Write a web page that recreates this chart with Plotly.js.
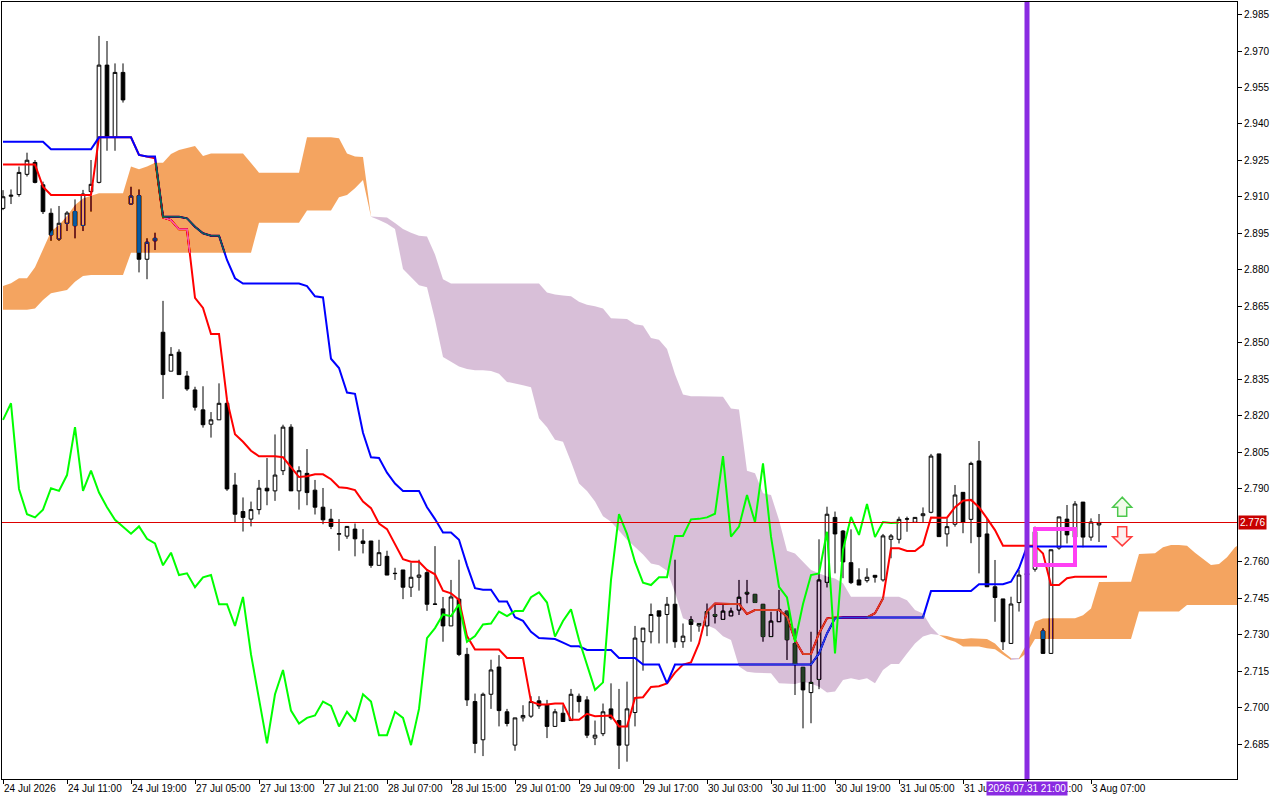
<!DOCTYPE html>
<html>
<head>
<meta charset="utf-8">
<script src="https://cdn.plot.ly/plotly-3.0.1.min.js"></script>
<style>
  html, body { margin: 0; padding: 0; background: #fff; }
  #chart { width: 1280px; height: 800px; }
</style>
</head>
<body>
<div id="chart"></div>
<script>
// hourly bars, index 0 = 24 Jul 03:00
var opens = [
  2.9053,2.9103,2.9110,2.9193,2.9242,2.9150,2.9033,2.8927,2.8992,2.9040,
  2.8983,2.9122,2.9160,2.9642,2.9345,2.9612,2.9071,2.9105,2.8844,2.8920,
  2.8544,2.8384,2.8462,2.8364,2.8307,2.8225,2.8166,2.8184,2.8252,2.7916,
  2.7807,2.7776,2.7815,2.7903,2.7892,2.7975,2.8154,2.7892,2.7964,2.7895,
  2.7825,2.7776,2.7714,2.7706,2.7735,2.7686,2.7686,2.7586,2.7623,2.7552,
  2.7567,2.7496,2.7537,2.7556,2.7427,2.7407,2.7337,2.7447,2.7220,2.7026,
  2.6869,2.7056,2.7168,2.6984,2.6847,2.6959,2.6966,2.7029,2.7014,2.6924,
  2.6978,2.6948,2.7048,2.7033,2.6876,2.6894,2.6996,2.6948,2.6847,2.6981,
  2.7272,2.7313,2.7399,2.7384,2.7426,2.7272,2.7362,2.7337,2.7337,2.7384,
  2.7364,2.7378,2.7402,2.7468,2.7467,2.7426,2.7293,2.7354,2.7398,2.7265,
  2.7167,2.7063,2.7117,2.7516,2.7783,2.7727,2.7597,2.7526,2.7523,2.7545,
  2.7526,2.7693,2.7693,2.7776,2.7763,2.7790,2.7804,2.8044,2.7715,2.7755,
  2.7886,2.7775,2.8015,2.7715,2.7498,2.7448,2.7265,2.7433,2.7546,2.7570,
  2.7316,2.7224,2.7657,2.7776,2.7702,2.7846,2.7702,2.7752,2.7762
];
var highs = [
  2.9128,2.9131,2.9225,2.9282,2.9252,2.9163,2.9053,2.9063,2.9042,2.9090,
  2.9129,2.9252,2.9762,2.9741,2.9649,2.9649,2.9142,2.9131,2.8930,2.8953,
  2.8673,2.8483,2.8474,2.8385,2.8320,2.8322,2.8216,2.8334,2.8266,2.7966,
  2.7865,2.7848,2.7937,2.8027,2.8124,2.8164,2.8166,2.7993,2.8064,2.7937,
  2.7904,2.7818,2.7776,2.7746,2.7758,2.7735,2.7686,2.7691,2.7646,2.7576,
  2.7567,2.7597,2.7609,2.7567,2.7665,2.7456,2.7526,2.7609,2.7247,2.7059,
  2.7063,2.7198,2.7217,2.6996,2.6959,2.7011,2.7048,2.7048,2.7033,2.6996,
  2.7011,2.7078,2.7059,2.7048,2.6948,2.7018,2.7101,2.7078,2.7108,2.7337,
  2.7328,2.7429,2.7399,2.7456,2.7609,2.7347,2.7377,2.7347,2.7429,2.7429,
  2.7430,2.7412,2.7526,2.7526,2.7467,2.7426,2.7395,2.7485,2.7398,2.7327,
  2.7167,2.7313,2.7693,2.7827,2.7807,2.7731,2.7734,2.7574,2.7574,2.7545,
  2.7715,2.7715,2.7786,2.7786,2.7783,2.7824,2.8044,2.8044,2.7779,2.7916,
  2.7886,2.8012,2.8097,2.7779,2.7608,2.7448,2.7457,2.7567,2.7600,2.7745,
  2.7327,2.7650,2.7785,2.7834,2.7850,2.7846,2.7779,2.7797,2.7762
];
var lows = [
  2.9046,2.9071,2.9101,2.9184,2.9156,2.9030,2.8920,2.8920,2.8960,2.8930,
  2.8960,2.9040,2.9156,2.9290,2.9290,2.9488,2.9067,2.8790,2.8762,2.8882,
  2.8270,2.8384,2.8370,2.8303,2.8222,2.8152,2.8111,2.8184,2.7892,2.7763,
  2.7725,2.7746,2.7795,2.7833,2.7851,2.7957,2.7892,2.7815,2.7833,2.7795,
  2.7755,2.7735,2.7646,2.7695,2.7623,2.7635,2.7576,2.7586,2.7546,2.7526,
  2.7447,2.7456,2.7482,2.7399,2.7426,2.7272,2.7337,2.7213,2.7008,2.6814,
  2.6802,2.6996,2.6924,2.6924,2.6824,2.6944,2.6959,2.6996,2.6876,2.6924,
  2.6944,2.6948,2.6981,2.6876,2.6847,2.6884,2.6951,2.6749,2.6779,2.6924,
  2.7153,2.7265,2.7265,2.7265,2.7247,2.7247,2.7272,2.7313,2.7295,2.7347,
  2.7364,2.7378,2.7382,2.7430,2.7433,2.7272,2.7293,2.7354,2.7197,2.7053,
  2.6916,2.6937,2.7077,2.7495,2.7553,2.7533,2.7509,2.7505,2.7515,2.7515,
  2.7519,2.7615,2.7676,2.7724,2.7763,2.7763,2.7800,2.7704,2.7663,2.7745,
  2.7718,2.7677,2.7553,2.7498,2.7354,2.7238,2.7265,2.7396,2.7530,2.7560,
  2.7224,2.7224,2.7650,2.7676,2.7661,2.7660,2.7687,2.7682,2.7762
];
var closes = [
  2.9101,2.9107,2.9201,2.9251,2.9160,2.9040,2.8944,2.8992,2.9034,2.8982,
  2.9112,2.9152,2.9642,2.9345,2.9612,2.9499,2.9104,2.8844,2.8914,2.8930,
  2.8370,2.8453,2.8370,2.8311,2.8236,2.8164,2.8184,2.8252,2.7900,2.7796,
  2.7783,2.7815,2.7903,2.7892,2.7957,2.8154,2.7892,2.7975,2.7885,2.7825,
  2.7773,2.7746,2.7716,2.7746,2.7695,2.7676,2.7586,2.7638,2.7546,2.7553,
  2.7496,2.7537,2.7546,2.7426,2.7426,2.7337,2.7456,2.7220,2.7033,2.6854,
  2.7056,2.7156,2.6989,2.6936,2.6959,2.6969,2.7026,2.7008,2.6924,2.6984,
  2.6944,2.7056,2.7026,2.6888,2.6888,2.6984,2.6959,2.6847,2.6996,2.7287,
  2.7328,2.7384,2.7377,2.7426,2.7272,2.7295,2.7343,2.7347,2.7396,2.7377,
  2.7398,2.7398,2.7455,2.7475,2.7433,2.7293,2.7357,2.7405,2.7280,2.7181,
  2.7074,2.7105,2.7526,2.7796,2.7715,2.7600,2.7515,2.7505,2.7537,2.7537,
  2.7707,2.7707,2.7775,2.7777,2.7783,2.7798,2.8035,2.7704,2.7745,2.7875,
  2.7763,2.8005,2.7704,2.7498,2.7454,2.7272,2.7427,2.7546,2.7553,2.7724,
  2.7224,2.7650,2.7785,2.7711,2.7838,2.7702,2.7764,2.7760,2.7762
];

// Ichimoku lines
var tenkan = [
  2.9233,2.9233,2.9233,2.9233,2.9233,2.9142,2.9108,2.9108,2.9108,2.9108,
  2.9108,2.9108,2.9345,2.9345,2.9345,2.9345,2.9345,2.9273,2.9266,2.9259,
  2.9016,2.9005,2.8967,2.8967,2.8685,2.8644,2.8537,2.8537,2.8266,2.8125,
  2.8094,2.8057,2.8034,2.8034,2.8034,2.8030,2.7990,2.7949,2.7952,2.7960,
  2.7960,2.7940,2.7907,2.7904,2.7895,2.7848,2.7821,2.7758,2.7735,2.7676,
  2.7611,2.7601,2.7601,2.7567,2.7549,2.7482,2.7471,2.7444,2.7295,2.7240,
  2.7240,2.7240,2.7240,2.7205,2.7205,2.7205,2.7026,2.7014,2.7014,2.7018,
  2.7018,2.6951,2.6951,2.6976,2.6966,2.6966,2.6969,2.6924,2.6924,2.7041,
  2.7044,2.7086,2.7089,2.7101,2.7145,2.7178,2.7187,2.7265,2.7396,2.7429,
  2.7427,2.7427,2.7427,2.7386,2.7402,2.7402,2.7402,2.7402,2.7375,2.7279,
  2.7222,2.7222,2.7306,2.7368,2.7372,2.7372,2.7372,2.7372,2.7372,2.7389,
  2.7450,2.7656,2.7656,2.7645,2.7645,2.7670,2.7783,2.7782,2.7782,2.7825,
  2.7852,2.7855,2.7825,2.7779,2.7731,2.7667,2.7667,2.7667,2.7667,2.7667,
  2.7635,2.7505,2.7505,2.7533,2.7539,2.7539,2.7539,2.7539,2.7539
];
var kijun = [
  2.9327,2.9327,2.9327,2.9327,2.9327,2.9327,2.9296,2.9296,2.9296,2.9296,
  2.9296,2.9296,2.9345,2.9345,2.9345,2.9345,2.9345,2.9273,2.9266,2.9266,
  2.9019,2.9019,2.9019,2.9012,2.8978,2.8951,2.8941,2.8941,2.8841,2.8766,
  2.8744,2.8744,2.8744,2.8744,2.8744,2.8744,2.8744,2.8744,2.8734,2.8692,
  2.8687,2.8435,2.8397,2.8296,2.8291,2.8131,2.8030,2.8027,2.7967,2.7922,
  2.7892,2.7892,2.7892,2.7825,2.7776,2.7721,2.7721,2.7691,2.7586,2.7492,
  2.7486,2.7486,2.7437,2.7437,2.7373,2.7358,2.7313,2.7287,2.7284,2.7283,
  2.7268,2.7253,2.7253,2.7238,2.7238,2.7238,2.7238,2.7205,2.7205,2.7205,
  2.7178,2.7178,2.7178,2.7101,2.7178,2.7178,2.7178,2.7178,2.7178,2.7178,
  2.7178,2.7178,2.7178,2.7178,2.7178,2.7178,2.7178,2.7178,2.7178,2.7178,
  2.7178,2.7178,2.7224,2.7306,2.7368,2.7372,2.7372,2.7372,2.7372,2.7372,
  2.7372,2.7372,2.7372,2.7372,2.7372,2.7372,2.7480,2.7480,2.7480,2.7480,
  2.7480,2.7480,2.7508,2.7508,2.7508,2.7508,2.7519,2.7574,2.7663,2.7663,
  2.7663,2.7663,2.7663,2.7663,2.7663,2.7663,2.7663,2.7663,2.7663
];
// senkou spans, already shifted 26 bars forward (run past the last candle)
var spanA = [
  2.8734,2.8745,2.8766,2.8766,2.8811,2.8882,2.8958,2.8985,2.9022,2.9067,
  2.9094,2.9105,2.9115,2.9115,2.9115,2.9115,2.9225,2.9214,2.9225,2.9241,
  2.9241,2.9277,2.9293,2.9300,2.9310,2.9268,2.9279,2.9279,2.9279,2.9279,
  2.9279,2.9240,2.9200,2.9200,2.9200,2.9200,2.9200,2.9200,2.9345,2.9345,
  2.9345,2.9345,2.9341,2.9279,2.9266,2.9264,2.9019,2.9005,2.8990,2.8968,
  2.8804,2.8770,2.8737,2.8729,2.8595,2.8442,2.8423,2.8403,2.8393,2.8388,
  2.8388,2.8385,2.8373,2.8340,2.8333,2.8326,2.8318,2.8191,2.8154,2.8102,
  2.8094,2.8012,2.7922,2.7892,2.7848,2.7788,2.7765,2.7728,2.7691,2.7661,
  2.7631,2.7594,2.7586,2.7564,2.7474,2.7369,2.7355,2.7347,2.7340,2.7325,
  2.7295,2.7279,2.7170,2.7149,2.7145,2.7143,2.7142,2.7101,2.7100,2.7098,
  2.7108,2.7100,2.7087,2.7063,2.7067,2.7115,2.7122,2.7115,2.7122,2.7101,
  2.7156,2.7180,2.7180,2.7224,2.7265,2.7293,2.7304,2.7300,2.7296,2.7286,
  2.7283,2.7286,2.7286,2.7283,2.7265,2.7231,2.7197,2.7200,2.7265,2.7354,
  2.7367,2.7368,2.7368,2.7368,2.7368,2.7381,2.7409,2.7518,2.7519,2.7519,
  2.7519,2.7519,2.7633,2.7633,2.7636,2.7660,2.7670,2.7670,2.7666,2.7638,
  2.7611,2.7587,2.7591,2.7619,2.7660,2.7683
];
var spanB = [
  2.8636,2.8636,2.8636,2.8636,2.8642,2.8677,2.8704,2.8711,2.8718,2.8752,
  2.8775,2.8779,2.8779,2.8779,2.8779,2.8779,2.8871,2.8871,2.8871,2.8871,
  2.8871,2.8871,2.8871,2.8871,2.8871,2.8871,2.8871,2.8871,2.8871,2.8871,
  2.8871,2.8871,2.8994,2.8994,2.8994,2.8994,2.8994,2.8994,2.9044,2.9044,
  2.9044,2.9044,2.9099,2.9108,2.9136,2.9170,2.9020,2.9017,2.9016,2.8993,
  2.8968,2.8953,2.8941,2.8938,2.8864,2.8762,2.8744,2.8744,2.8744,2.8744,
  2.8744,2.8744,2.8744,2.8744,2.8744,2.8744,2.8744,2.8744,2.8707,2.8699,
  2.8695,2.8692,2.8669,2.8657,2.8651,2.8642,2.8602,2.8600,2.8598,2.8577,
  2.8572,2.8520,2.8513,2.8475,2.8371,2.8288,2.8281,2.8281,2.8281,2.8281,
  2.8279,2.8231,2.8227,2.7975,2.7964,2.7882,2.7875,2.7772,2.7646,2.7635,
  2.7601,2.7567,2.7553,2.7540,2.7532,2.7512,2.7457,2.7457,2.7457,2.7457,
  2.7457,2.7457,2.7457,2.7443,2.7402,2.7388,2.7334,2.7300,2.7282,2.7272,
  2.7252,2.7252,2.7252,2.7245,2.7241,2.7218,2.7205,2.7205,2.7228,2.7283,
  2.7283,2.7283,2.7283,2.7283,2.7283,2.7283,2.7283,2.7283,2.7283,2.7283,
  2.7283,2.7283,2.7396,2.7396,2.7396,2.7396,2.7396,2.7396,2.7423,2.7423,
  2.7423,2.7423,2.7423,2.7423,2.7423,2.7423
];

// time axis labels, one every 8 bars
var timeLabels = [
  "24 Jul 2026","24 Jul 11:00","24 Jul 19:00","27 Jul 05:00","27 Jul 13:00",
  "27 Jul 21:00","28 Jul 07:00","28 Jul 15:00","29 Jul 01:00","29 Jul 09:00",
  "29 Jul 17:00","30 Jul 03:00","30 Jul 11:00","30 Jul 19:00","31 Jul 05:00",
  "31 Jul 13:00","31 Jul 21:00","3 Aug 07:00"
];
// 2.775 is left out: the bid label sits there
var priceTicks = [2.685,2.700,2.715,2.730,2.745,2.760,2.790,2.805,2.820,
  2.835,2.850,2.865,2.880,2.895,2.910,2.925,2.940,2.955,2.970,2.985];

var SHIFT = 26;
var markerBar = 128;           // vertical line 2026.07.31 21:00
var markerText = "2026.07.31 21:00";
var boxBars = [129, 134];
var boxPrices = [2.7587, 2.7735];

var xRange = [-0.125, 154.25];
var yRange = [2.67078, 2.99014];

var FONT = "Liberation Sans, Arial, sans-serif";
var SANDY = "#F4A460", THISTLE = "#D8BFD8";

function invert(hex) {
  var n = parseInt(hex.slice(1), 16) ^ 0xFFFFFF;
  return "#" + ("000000" + n.toString(16)).slice(-6);
}

var idx = closes.map(function (_, i) { return i; });

// white panel inside the plot group, so the xor-style kumo has a backdrop
var backdrop = {
  type: "bar", x: [(xRange[0] + xRange[1]) / 2], width: [xRange[1] - xRange[0] + 2],
  base: [yRange[0] - 0.01], y: [yRange[1] - yRange[0] + 0.02],
  marker: { color: "#ffffff", line: { width: 0 } },
  hoverinfo: "skip", showlegend: false
};

var candles = {
  type: "candlestick",
  x: idx, open: opens, high: highs, low: lows, close: closes,
  increasing: { line: { color: "#000", width: 1 }, fillcolor: "#fff" },
  decreasing: { line: { color: "#000", width: 1 }, fillcolor: "#000" },
  whiskerwidth: 0,
  hoverinfo: "skip", showlegend: false
};

var tenkanTrace = {
  type: "scatter", mode: "lines", x: idx, y: tenkan,
  line: { color: "#ff0000", width: 2 }, hoverinfo: "skip", showlegend: false
};
var kijunTrace = {
  type: "scatter", mode: "lines", x: idx, y: kijun,
  line: { color: "#0000ff", width: 2 }, hoverinfo: "skip", showlegend: false
};

// split the kumo into runs of one colour
var runs = [];
for (var i = 0; i < spanA.length - 1; i++) {
  var d = (spanA[i] - spanB[i]) + (spanA[i + 1] - spanB[i + 1]);
  var up = d >= 0;
  var last = runs[runs.length - 1];
  if (last && last.up === up) last.end = i + 1;
  else runs.push({ up: up, start: i, end: i + 1 });
}
var cloudTraces = runs.map(function (r) {
  var xs = [], ys = [], k;
  for (k = r.start; k <= r.end; k++) { xs.push(k); ys.push(Math.max(spanA[k], spanB[k])); }
  for (k = r.end; k >= r.start; k--) { xs.push(k); ys.push(Math.min(spanA[k], spanB[k])); }
  return {
    type: "scatter", mode: "lines", x: xs, y: ys, fill: "toself",
    fillcolor: invert(r.up ? SANDY : THISTLE), line: { width: 0 },
    hoverinfo: "skip", showlegend: false
  };
});

var chikou = closes.slice(SHIFT);
var chikouTrace = {
  type: "scatter", mode: "lines",
  x: chikou.map(function (_, i) { return i; }), y: chikou,
  line: { color: "#00ff00", width: 2 }, hoverinfo: "skip", showlegend: false
};

var lastPrice = closes[closes.length - 1];

var layout = {
  width: 1280, height: 800,
  margin: { l: 2, r: 43, t: 2, b: 21 },
  paper_bgcolor: "#fff", plot_bgcolor: "#fff",
  showlegend: false, hovermode: false,
  boxgap: 0.35,
  font: { family: FONT, size: 10, color: "#000" },
  xaxis: {
    type: "linear", range: xRange,
    showgrid: false, zeroline: false,
    showline: true, mirror: true, linecolor: "#000", linewidth: 1,
    ticks: "outside", ticklen: 4, tickcolor: "#000",
    tickvals: timeLabels.map(function (_, i) { return i * 8; }),
    ticktext: timeLabels,
    ticklabelposition: "outside right",
    tickfont: { family: FONT, size: 10, color: "#000" },
    rangeslider: { visible: false }, fixedrange: true
  },
  yaxis: {
    side: "right", range: yRange,
    showgrid: false, zeroline: false,
    showline: true, mirror: true, linecolor: "#000", linewidth: 1,
    ticks: "outside", ticklen: 4, tickcolor: "#000",
    tickvals: priceTicks,
    ticktext: priceTicks.map(function (v) { return v.toFixed(3); }),
    tickfont: { family: FONT, size: 10, color: "#000" },
    fixedrange: true
  },
  shapes: [
    { type: "line", xref: "paper", x0: 0, x1: 1, yref: "y", y0: lastPrice, y1: lastPrice,
      line: { color: "#dd0000", width: 1 }, layer: "above" },
    { type: "line", xref: "x", x0: markerBar, x1: markerBar, yref: "paper", y0: 0, y1: 1,
      line: { color: "#8a2be2", width: 5 }, layer: "above" },
    { type: "rect", xref: "x", x0: boxBars[0], x1: boxBars[1], yref: "y", y0: boxPrices[0], y1: boxPrices[1],
      line: { color: "#ff40f4", width: 4 }, layer: "above" },
    { type: "path", xref: "x", yref: "y", xsizemode: "pixel", ysizemode: "pixel",
      xanchor: 139.9, yanchor: 2.7825,
      path: "M 0 10 L -9.5 0 L -4.5 0 L -4.5 -9 L 4.5 -9 L 4.5 0 L 9.5 0 Z",
      fillcolor: "#f2fbea", line: { color: "#4cc84c", width: 1.5 }, layer: "above" },
    { type: "path", xref: "x", yref: "y", xsizemode: "pixel", ysizemode: "pixel",
      xanchor: 139.9, yanchor: 2.7703,
      path: "M -4.5 10 L 4.5 10 L 4.5 0 L 9.5 0 L 0 -9 L -9.5 0 L -4.5 0 Z",
      fillcolor: "#fdeeee", line: { color: "#ff3c3c", width: 1.5 }, layer: "above" }
  ],
  annotations: [
    { xref: "paper", x: 1, xanchor: "left", xshift: 1, yref: "y", y: lastPrice,
      text: lastPrice.toFixed(3), showarrow: false, bgcolor: "#c80000", borderpad: 1,
      font: { family: FONT, size: 10, color: "#fff" } },
    { xref: "x", x: markerBar, xanchor: "center", yref: "paper", y: 0, yanchor: "top", yshift: -2,
      text: markerText, showarrow: false, bgcolor: "#8a2be2", borderpad: 1,
      font: { family: FONT, size: 10, color: "#fff" } }
  ]
};

var data = [backdrop, candles, tenkanTrace, kijunTrace].concat(cloudTraces, [chikouTrace]);

Plotly.newPlot("chart", data, layout, { staticPlot: true, displayModeBar: false, responsive: false })
  .then(function () {
    // MT5 draws the kumo in xor mode: candles and lines under it change colour
    document.querySelectorAll(".scatterlayer path.js-fill").forEach(function (p) {
      p.style.mixBlendMode = "difference";
    });
  });
</script>
</body>
</html>
